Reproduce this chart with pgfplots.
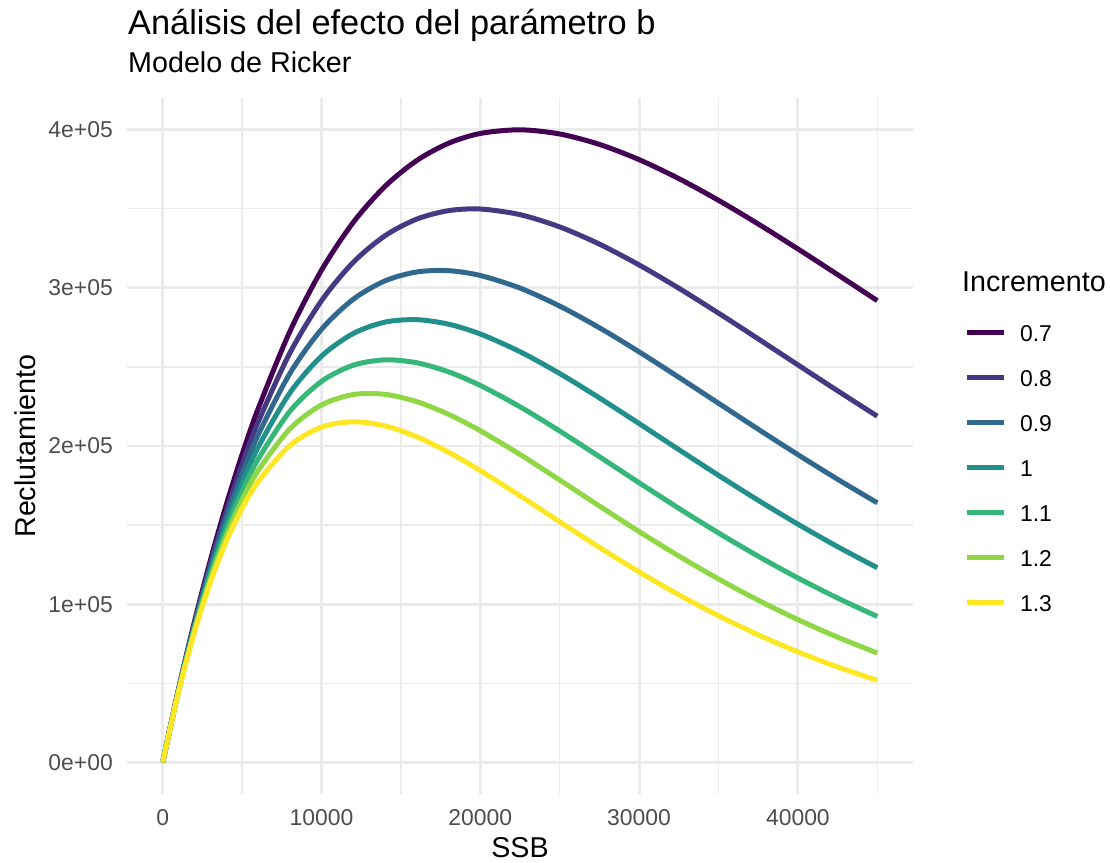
\documentclass[border=0pt]{standalone}
\usepackage{pgfplots}
\pgfplotsset{compat=1.18}
\usepackage{fontspec}
\setmainfont{Liberation Sans}

\definecolor{vir1}{HTML}{440154}
\definecolor{vir2}{HTML}{443A83}
\definecolor{vir3}{HTML}{31688E}
\definecolor{vir4}{HTML}{21908C}
\definecolor{vir5}{HTML}{35B779}
\definecolor{vir6}{HTML}{8FD744}
\definecolor{vir7}{HTML}{FDE725}
\definecolor{gridgrey}{HTML}{EBEBEB}
\definecolor{ticktext}{HTML}{4D4D4D}

\begin{document}
\begin{tikzpicture}
\useasboundingbox (0,0) rectangle (1110bp,863bp);

\begin{axis}[
  at={(127bp,69bp)}, anchor=south west,
  scale only axis, width=786bp, height=696bp,
  xmin=-2250, xmax=47250, ymin=-20000, ymax=420000,
  scaled ticks=false,
  axis line style={draw=none},
  major tick length=0pt, minor tick length=0pt,
  tick style={draw=none},
  xtick={0,10000,20000,30000,40000},
  xticklabels={0,10000,20000,30000,40000},
  minor xtick={5000,15000,25000,35000,45000},
  ytick={0,100000,200000,300000,400000},
  yticklabels={0e+00,1e+05,2e+05,3e+05,4e+05},
  minor ytick={50000,150000,250000,350000},
  grid=both,
  major grid style={draw=gridgrey, line width=2.8bp},
  minor grid style={draw=gridgrey, line width=1.4bp},
  /pgf/number format/assume math mode=true,
  xticklabel style={font=\fontsize{23}{23}\selectfont, text=ticktext, anchor=base, inner sep=0pt, yshift=-32bp},
  yticklabel style={font=\fontsize{23}{23}\selectfont, text=ticktext, anchor=east, inner sep=0pt, xshift=-14bp},
  legend cell align=left,
  legend style={at={(axis description cs:1.06489,0.6736)}, anchor=north west,
    draw=none, fill=none, inner sep=0pt, outer sep=0pt,
    row sep=28.4bp, column sep=14bp,
    nodes={inner sep=0pt, outer sep=0pt, text height=16.5bp, text depth=0pt,
           font=\fontsize{23}{23}\selectfont}},
  legend image code/.code={\draw[#1, line width=5bp, line cap=butt] (0bp,0.7bp) -- (37bp,0.7bp);},
  every axis plot/.append style={line width=5bp, line cap=butt, line join=round, smooth, no markers},
]

% Ricker curves R = a*S*exp(-k*b*S), one per increment of b
\addplot[vir1] coordinates {
(0,0) (1000,46566) (2000,89053) (3000,127726) (4000,162842) (5000,194634)
(6000,223329) (8000,272253) (10000,311150) (12000,341382) (14000,364147)
(16000,380501) (18000,391378) (20000,397596) (22500,399892) (25000,397246)
(27500,390671) (30000,381029) (32500,369045) (35000,355323) (37500,340366)
(40000,324587) (42500,308335) (45000,291879)};
\addlegendentry{0.7}

\addplot[vir2] coordinates {
(0,0) (1000,46269) (2000,87920) (3000,125297) (4000,158725) (5000,188503)
(6000,214913) (8000,258660) (10000,291855) (12000,316137) (14000,332939)
(16000,343459) (18000,348783) (20000,349817) (22500,346261) (25000,338510)
(27500,327623) (30000,314466) (32500,299743) (35000,284014) (37500,267741)
(40000,251278) (42500,234904) (45000,218839)};
\addlegendentry{0.8}

\addplot[vir3] coordinates {
(0,0) (1000,45974) (2000,86802) (3000,122915) (4000,154713) (5000,182567)
(6000,206817) (8000,245750) (10000,273763) (12000,292767) (14000,304405)
(16000,310030) (18000,310831) (20000,307788) (22500,299826) (25000,288460)
(27500,274748) (30000,259531) (32500,243451) (35000,227017) (37500,210612)
(40000,194523) (42500,178967) (45000,164078)};
\addlegendentry{0.9}

\addplot[vir4] coordinates {
(0,0) (1000,45681) (2000,85698) (3000,120577) (4000,150802) (5000,176817)
(6000,199027) (8000,233484) (10000,256791) (12000,271127) (14000,278317)
(16000,279854) (18000,277009) (20000,270808) (22500,259614) (25000,245810)
(27500,230411) (30000,214193) (32500,197733) (35000,181459) (37500,165674)
(40000,150590) (42500,136345) (45000,123020)};
\addlegendentry{1}

\addplot[vir5] coordinates {
(0,0) (1000,45389) (2000,84608) (3000,118284) (4000,146991) (5000,171249)
(6000,191529) (8000,221832) (10000,240872) (12000,251084) (14000,254458)
(16000,252614) (18000,246867) (20000,238272) (22500,224794) (25000,209465)
(27500,193227) (30000,176774) (32500,160600) (35000,145041) (37500,130323)
(40000,116578) (42500,103875) (45000,92236)};
\addlegendentry{1.1}

\addplot[vir6] coordinates {
(0,0) (1000,45100) (2000,83532) (3000,116035) (4000,143275) (5000,165855)
(6000,184313) (8000,210758) (10000,225939) (12000,232522) (14000,232650)
(16000,228027) (18000,220006) (20000,209644) (22500,194648) (25000,178494)
(27500,162043) (30000,145893) (32500,130441) (35000,115935) (37500,102516)
(40000,90247) (42500,79137) (45000,69155)};
\addlegendentry{1.2}

\addplot[vir7] coordinates {
(0,0) (1000,44812) (2000,82469) (3000,113828) (4000,139655) (5000,160632)
(6000,177370) (8000,200240) (10000,211932) (12000,215333) (14000,212712)
(16000,205833) (18000,196066) (20000,184456) (22500,168543) (25000,152102)
(27500,135892) (30000,120407) (32500,105944) (35000,92668) (37500,80642)
(40000,69865) (42500,60292) (45000,51849)};
\addlegendentry{1.3}
\end{axis}

% titles and axis titles
\node[anchor=base west, inner sep=0pt, font=\fontsize{34.5}{34.5}\selectfont] at (128bp,828bp) {Análisis del efecto del parámetro b};
\node[anchor=base west, inner sep=0pt, font=\fontsize{28.8}{28.8}\selectfont] at (128bp,790bp) {Modelo de Ricker};
\node[anchor=base, inner sep=0pt, font=\fontsize{28.8}{28.8}\selectfont] at (520bp,6bp) {SSB};
\node[anchor=base, rotate=90, inner sep=0pt, font=\fontsize{28.8}{28.8}\selectfont] at (35bp,417bp) {Reclutamiento};
\node[anchor=base west, inner sep=0pt, font=\fontsize{28.8}{28.8}\selectfont] at (962bp,571bp) {Incremento};
\end{tikzpicture}
\end{document}
